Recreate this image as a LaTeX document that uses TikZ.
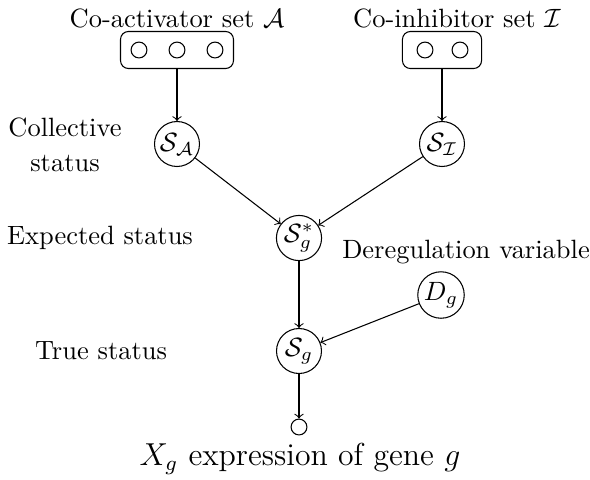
\documentclass[tikz,border=0pt]{standalone}
\usepackage{amsmath}
\begin{document}
\begin{tikzpicture}[x=0.378pt,y=-0.378pt,
  var/.style={draw,circle,minimum size=17pt,inner sep=0.5pt},
  dot/.style={draw,circle,minimum size=6pt,inner sep=0pt},
  setbox/.style={draw,rounded corners=3pt,minimum height=14pt,inner sep=0pt},
  lbl/.style={inner sep=0pt,align=center},
  arr/.style={->}]
\useasboundingbox (0,0) rectangle (590,479);
% labels
\node[lbl] (tA) at (177,18) {Co-activator set $\mathcal{A}$};
\node[lbl] (tI) at (457,18) {Co-inhibitor set $\mathcal{I}$};
\node[lbl] (tC) at (65,145) {Collective\\[1pt]status};
\node[lbl] (tE) at (100,238) {Expected status};
\node[lbl] (tD) at (466,252) {Deregulation variable};
\node[lbl] (tT) at (101,351) {True status};
% set boxes
\node[setbox,minimum width=42.7pt] (bA) at (177,50) {};
\node[dot] (a1) at (139,50) {};
\node[dot] (a2) at (177,50) {};
\node[dot] (a3) at (215,50) {};
\node[setbox,minimum width=29.9pt] (bI) at (442,50) {};
\node[dot] (i1) at (425,50) {};
\node[dot] (i2) at (460,50) {};
% variables
\node[var] (SA) at (177,144) {$\mathcal{S}_{\mathcal{A}}$};
\node[var] (SI) at (442,144) {$\mathcal{S}_{\mathcal{I}}$};
\node[var] (Ss) at (299,238) {$\mathcal{S}_g^*$};
\node[var] (Dg) at (441,295) {$D_g$};
\node[var] (Sg) at (299,351) {$\mathcal{S}_g$};
\node[dot] (X) at (299,427) {};
\node[lbl,font=\large] (tX) at (300,459) {$X_g$ expression of gene $g$};
% connectors
\draw[arr] (bA) -- (SA);
\draw[arr] (bI) -- (SI);
\draw[arr] (SA) -- (Ss);
\draw[arr] (SI) -- (Ss);
\draw[arr] (Ss) -- (Sg);
\draw[arr] (Dg) -- (Sg);
\draw[arr] (Sg) -- (X);
\end{tikzpicture}
\end{document}
